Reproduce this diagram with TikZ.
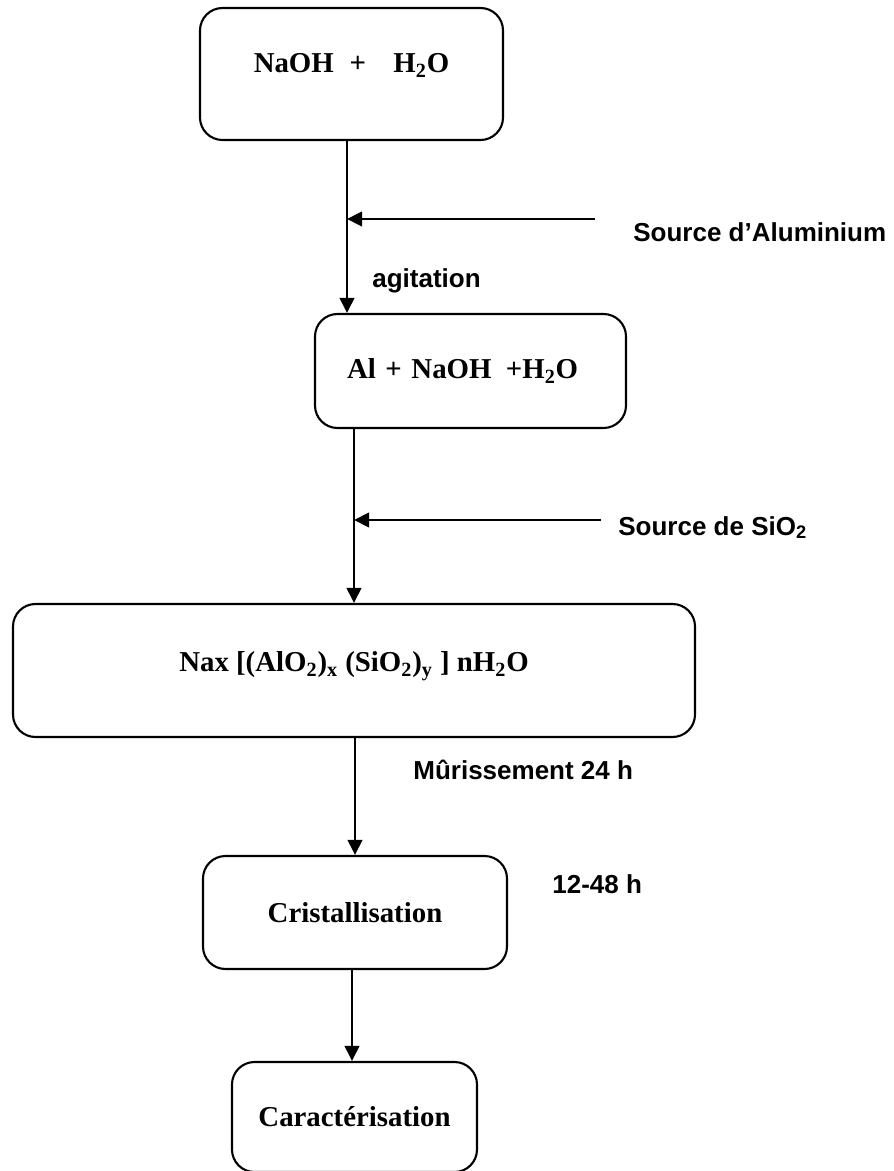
\documentclass[tikz,border=0pt]{standalone}
\usepackage{fontspec}
\setmainfont{Liberation Serif}
\setsansfont{Liberation Sans}
\usetikzlibrary{arrows.meta, positioning}

\begin{document}
\begin{tikzpicture}[
    box/.style={draw, rounded corners=0.45cm, line width=1.2pt, align=center,
                font=\fontsize{16.4}{19}\selectfont\bfseries},
    lbl/.style={anchor=base west, inner sep=0pt,
                font=\sffamily\fontsize{14.8}{17}\selectfont\bfseries},
    arr/.style={-{Triangle[length=0.3cm, width=0.29cm]}, line width=1.3pt}
  ]
  \useasboundingbox (0,0) rectangle (17.88,-23.42);

  % boxes
  \node[box, minimum width=6.06cm, minimum height=2.64cm,
        text height=0.4cm, text depth=0.46cm] (naoh) at (7.03,-1.48)
    {NaOH\hspace{0.55em}+\hspace{0.95em}H\textsubscript{2}O};
  \node[box, minimum width=6.22cm, minimum height=2.28cm,
        text width=4.94cm, align=left] (alum) at (9.41,-7.42)
    {Al + NaOH\hspace{0.5em}+H\textsubscript{2}O};
  \node[box, minimum width=13.64cm, minimum height=2.66cm,
        text height=0.4cm, text depth=0.36cm] (gel) at (7.08,-13.41)
    {Nax [(AlO\textsubscript{2})\textsubscript{x} (SiO\textsubscript{2})\textsubscript{y} ] nH\textsubscript{2}O};
  \node[box, minimum width=6.08cm, minimum height=2.26cm] (crist) at (7.1,-18.25)
    {Cristallisation};
  \node[box, minimum width=4.9cm, minimum height=2.2cm] (carac) at (7.09,-22.34)
    {Caractérisation};

  % side labels
  \node[lbl] (srcal) at (12.66,-4.84) {Source d’Aluminium};
  \node[lbl] (agit) at (7.44,-5.76) {agitation};
  \node[lbl] (srcsi) at (12.36,-10.7) {Source de SiO\textsubscript{2}};
  \node[lbl] (muris) at (8.26,-15.58) {Mûrissement 24 h};
  \node[lbl] (duree) at (11.04,-17.86) {12-48 h};

  % junctions
  \coordinate (jal) at (6.94,-4.38);
  \coordinate (alstart) at (11.9,-4.38);
  \coordinate (jsi) at (7.08,-10.4);
  \coordinate (sistart) at (12.02,-10.4);
  \coordinate (jfin) at (7.04,-20.4);

  % arrows
  \draw[arr] (naoh.south -| jal) -- (alum.north -| jal);
  \draw[arr] (alstart) -- (jal);
  \draw[arr] (alum.south -| jsi) -- (gel.north -| jsi);
  \draw[arr] (sistart) -- (jsi);
  \draw[arr] (gel.south -| crist.north) -- (crist.north);
  \draw[arr] (crist.south -| jfin) -- (carac.north -| jfin);
\end{tikzpicture}
\end{document}
